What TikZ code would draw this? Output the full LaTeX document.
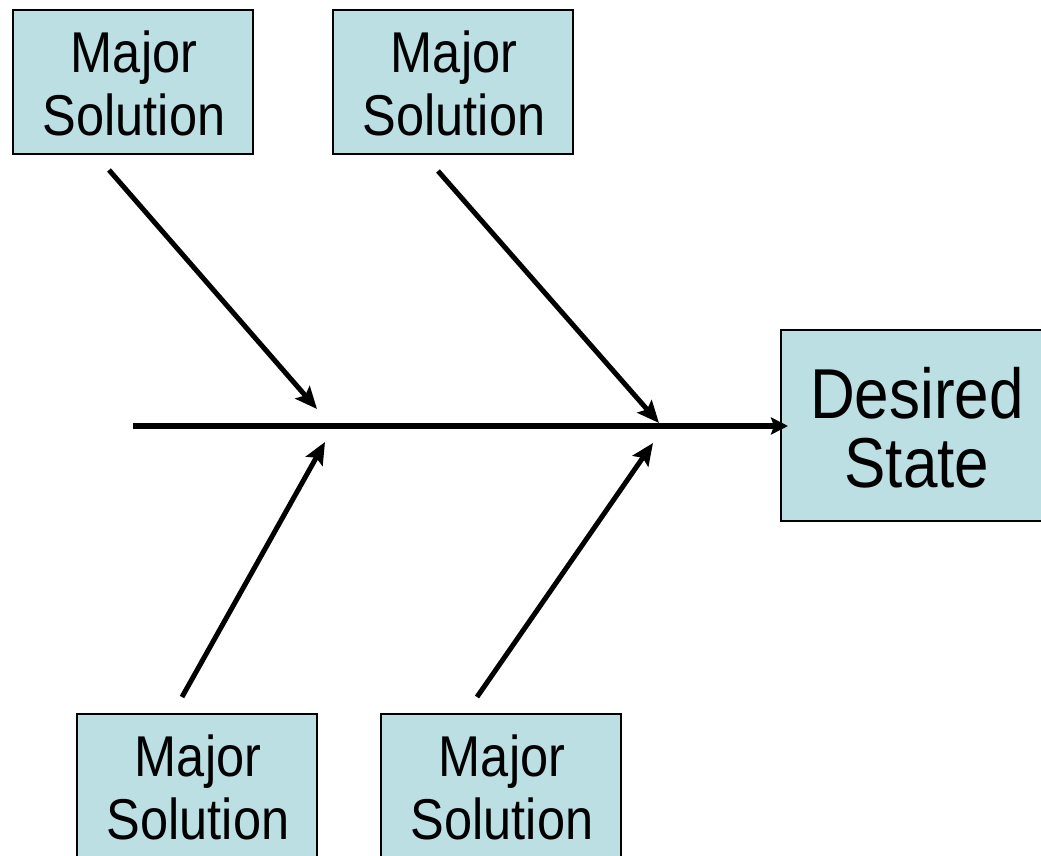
\documentclass[tikz,border=0pt]{standalone}
\usepackage{fontspec}
\setmainfont{Liberation Sans}
\usetikzlibrary{arrows.meta}
\definecolor{boxfill}{HTML}{BBDFE3}
\newcommand{\stxt}[3]{\scalebox{1}[1.14]{\fontsize{#1}{#2}\selectfont\begin{tabular}{@{}c@{}}#3\end{tabular}}}
\begin{document}
\begin{tikzpicture}[x=1pt,y=-1pt,
  box/.style={draw=black, line width=1.5pt, fill=boxfill, minimum width=240pt, minimum height=144pt, inner sep=0pt, outer sep=0pt},
  lbl/.style={inner sep=0pt, outer sep=0pt},
  bone/.style={draw=black, line width=5pt, -{Stealth[length=22pt,width=19pt,inset=4pt]}},
  spine/.style={draw=black, line width=5.5pt, -{Stealth[length=17pt,width=17pt,inset=3pt]}}]
\useasboundingbox (0,0) rectangle (1041,856);
\clip (0,0) rectangle (1041,856);
% boxes
\node[box] (s1) at (133,82) {};
\node[box] (s2) at (453,82) {};
\node[box] (s3) at (197,786) {};
\node[box] (s4) at (501,786) {};
\node[box, minimum width=271pt, minimum height=191pt] (ds) at (916.5,425.5) {};
% labels
\node[lbl] (t1) at (134,91) {\stxt{50.5}{55.3}{Major\\Solution}};
\node[lbl] (t2) at (454,91) {\stxt{50.5}{55.3}{Major\\Solution}};
\node[lbl] (t3) at (198,795) {\stxt{50.5}{55.3}{Major\\Solution}};
\node[lbl] (t4) at (502,795) {\stxt{50.5}{55.3}{Major\\Solution}};
\node[lbl] (tds) at (917,437) {\stxt{62}{57.9}{Desired\\State}};
% coordinates
\coordinate (spst) at (133,426);
\coordinate (a1s) at (109,170);
\coordinate (a1e) at (317,409);
\coordinate (a2s) at (438,171);
\coordinate (a2e) at (659,423);
\coordinate (a3s) at (182,697);
\coordinate (a3e) at (325,442);
\coordinate (a4s) at (477,697);
\coordinate (a4e) at (653,443);
% spine
\draw[spine, shorten >=-7pt] (spst) -- (spst -| ds.west);
% bones
\draw[bone] (a1s) -- (a1e);
\draw[bone] (a2s) -- (a2e);
\draw[bone] (a3s) -- (a3e);
\draw[bone] (a4s) -- (a4e);
\end{tikzpicture}
\end{document}
